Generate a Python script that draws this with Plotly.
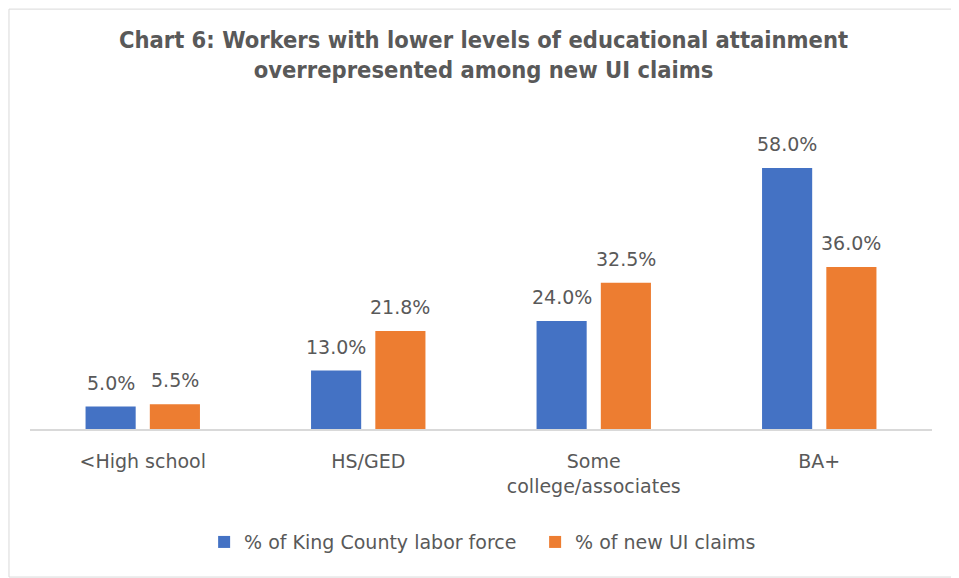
import plotly.graph_objects as go

# Chart data
categories = ['<High school', 'HS/GED', 'Some<br>college/associates', 'BA+']
labor_force = [5.0, 13.0, 24.0, 58.0]
ui_claims = [5.5, 21.8, 32.5, 36.0]
series_names = ['% of King County labor force', '% of new UI claims']

BLUE = '#4472C4'
ORANGE = '#ED7D31'
TEXT = '#595959'
FONT = 'DejaVu Sans, sans-serif'

fig = go.Figure()
annotations = []
for (name, vals, color), shift in zip(
        [(series_names[0], labor_force, BLUE), (series_names[1], ui_claims, ORANGE)],
        [-32, 32]):
    fig.add_trace(go.Bar(
        x=categories, y=vals, name=name,
        marker=dict(color=color, line=dict(width=0)),
        hoverinfo='x+y',
    ))
    # data labels floated above each bar
    for cat, v in zip(categories, vals):
        annotations.append(dict(
            x=cat, y=v, text=f'{v:.1f}%', showarrow=False,
            xshift=shift, yshift=24, yanchor='middle',
            font=dict(size=19, color=TEXT, family=FONT),
        ))

# the page body has an 8px margin, so the figure is sized to fit inside the window
fig.update_layout(
    width=951, height=570,
    paper_bgcolor='white', plot_bgcolor='white',
    font=dict(family=FONT, color=TEXT),
    title=dict(
        text='<b>Chart 6: Workers with lower levels of educational attainment<br>'
             'overrepresented among new UI claims</b>',
        x=0.5, xanchor='center', y=0.93, yanchor='top',
        font=dict(size=23.5, color=TEXT,
                  family='DejaVu Sans Condensed, DejaVu Sans, sans-serif'),
    ),
    barmode='group', bargap=0.43, bargroupgap=0.22,
    xaxis=dict(showline=True, linecolor='#D9D9D9', linewidth=2,
               ticks='outside', ticklen=14, tickcolor='rgba(0,0,0,0)',
               tickfont=dict(size=19, color=TEXT, family=FONT)),
    yaxis=dict(range=[0, 70], visible=False, showgrid=False, zeroline=False),
    legend=dict(orientation='h', x=0.56, xanchor='center', y=-0.359, yanchor='middle',
                font=dict(size=19, color=TEXT, family=FONT), itemwidth=30,
                entrywidth=286, entrywidthmode='pixels',
                traceorder='normal'),
    annotations=annotations,
    margin=dict(l=22, r=27, t=106, b=149),
    showlegend=True,
    shapes=[dict(type='rect', xref='paper', yref='paper',
                 x0=-0.0233, x1=1.0288, y0=-0.47, y1=1.333,
                 line=dict(color='#D9D9D9', width=1))],
)

fig.write_html('out.html')
